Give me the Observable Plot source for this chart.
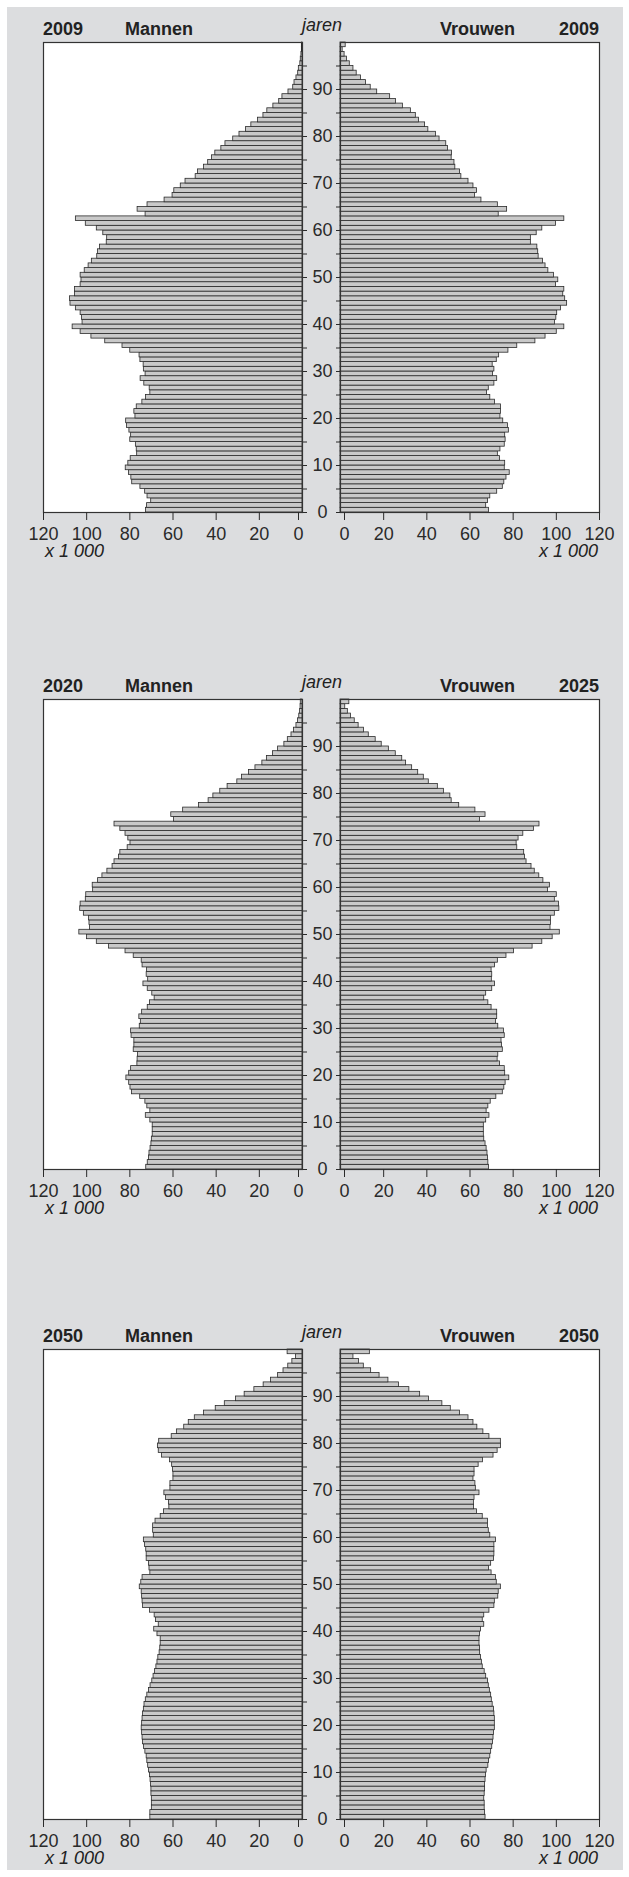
<!DOCTYPE html>
<html>
<head>
<meta charset="utf-8">
<script src="https://cdn.jsdelivr.net/npm/d3@7"></script>
<script src="https://cdn.jsdelivr.net/npm/@observablehq/plot@0.6"></script>
<style>
  html, body { margin: 0; padding: 0; background: #ffffff; }
  body { position: relative; width: 629px; height: 1877px; overflow: hidden;
         font-family: "Liberation Sans", Arial, Helvetica, sans-serif; color: #222; }
  #bg { position: absolute; left: 7px; top: 7px; width: 616px; height: 1863px; background: #dcdddf; }
  .t { position: absolute; font-size: 18px; line-height: 18px; white-space: nowrap; }
  .b { font-weight: bold; }
  .i { font-style: italic; }
  svg { position: absolute; overflow: visible; }
</style>
</head>
<body>
<div id="bg"></div>
<script>
// ---- data (x 1 000 persons), index = age 0..99 ----
const ages = d3.range(0, 100);

const men2009 = [72.5,72,70.1,71.8,72.9,75.1,78.9,79.3,80.4,81.9,
  80.7,79.6,76.6,76.8,77.2,79.8,79.4,80.2,81.3,81.7,
  77.4,77.9,76.8,74.2,72.5,70.5,70.8,73.3,75,72.7,
  73.5,73.6,75.1,75.5,79.8,83.4,91.4,97.8,102.8,106.5,
  101.9,102.2,102.8,105,107.5,107.7,105.4,105.4,102.8,102.4,
  102.8,100.9,99.1,97.6,95.1,94.8,93.8,90.7,90.5,92.3,
  95.3,100.4,105,72.7,76.4,71.8,63.9,60.2,59.4,56.4,
  54.2,49.5,48.4,45.6,43.7,41.9,40.4,37.6,35.7,32.1,
  29.2,26.2,23.7,20.6,18.1,16.3,13.5,10.8,9.3,6.5,
  4.3,3.7,2.8,2,1.7,1,0.8,0.5,0.3,0.3];

const women2009 = [68.8,67.5,68.3,69.4,72.6,75.2,75.9,76.9,78.4,76.1,
  76.3,73.9,72.9,74.1,76.1,76.5,76.3,78,77.6,75.4,
  74.1,74.4,74.4,71.6,69.4,67.9,68.7,71.3,72.6,70.7,
  71.3,70.5,72.4,73.5,77.8,81.9,90.3,95,100.2,103.7,
  99.4,100,100.4,102.2,105,104.1,103.2,103.7,99.8,100.9,
  98.9,96.3,95,93.8,91.8,91.6,91.2,88.2,88.2,90.9,
  93.5,99.8,103.7,73.3,77.2,72.9,65.3,62.3,63.2,61.6,
  59.3,56,55.4,53.2,52.8,51.5,51.7,49.8,49,45.9,
  44.2,40.7,39.2,36.4,34.9,32.6,28.9,25.7,23,17,
  14,11.8,9.5,7.5,6,4.3,3,1.9,1,2.4];

const men2020 = [72.4,71.7,71.1,70.9,70.4,70,69.8,69.4,69.4,69.4,
  70.5,72.6,70.5,71.9,72.8,75.2,79,79.7,80.3,81.6,
  80.3,79.4,76.5,76.4,76.2,78.2,77.9,77.9,79.2,79.4,
  75.4,74.9,75.6,74.3,71.7,70.7,68.5,69.6,71.7,73.7,
  71.5,72.2,72,74.1,74.5,78.2,82,89.7,95.3,99.8,
  103.4,98.5,98.7,98.9,101.3,103,102.8,100.4,100.2,97,
  97.2,94.7,92.7,90.4,88,87.1,85,84.4,81,79.7,
  80.7,82,84.4,87.1,59.5,60.8,55.3,48,43.5,41.3,
  38.1,34.7,30.2,28,24.8,21.8,18.6,16.5,13.7,11.3,
  8.4,6.8,5.1,3.9,2.8,2.1,1.5,1.1,0.9,0.8];

const women2025 = [68.8,68.5,68.3,68.1,67.7,67.2,66.6,66.4,66.4,66.4,
  67.5,69,67.7,68.5,69.6,72.2,75.2,75.9,76.5,78.2,
  76.3,76.1,73.9,72.8,73.1,75.2,74.8,74.6,76.1,75.7,
  73.1,72,72.6,72.6,70,68.5,66.6,67.5,70.3,71.6,
  70.1,70.3,70,71.6,72.9,76.9,80.4,89,93.5,98.3,
  101.6,97.3,97.5,97.5,99.3,101.4,101.2,99.3,100.2,96.1,
  97,94,92.1,90,88.5,86.2,85.5,85.1,81.9,81.6,
  82.5,84.7,89.6,92.2,64.6,67.2,62.5,55,51.5,50.9,
  47.9,45.1,40.9,38.6,36,33.2,30.4,28.6,25.6,22.4,
  19.1,16.3,13.1,10.9,8.4,6.6,4.9,3.4,2.2,4.1];

const men2050 = [70.5,70.5,69.8,69.8,69.8,70,70,70.2,70.4,70.7,
  71.1,71.5,71.9,72.2,72.8,73.4,73.9,74.1,74.3,74.5,
  74.3,74.1,73.9,73.5,73.2,72.6,71.9,71.1,70.4,69.6,
  69,68.3,67.7,67.2,66.8,66.2,65.9,65.7,65.7,67.2,
  68.7,66.6,67.9,68.5,70.7,73.9,74.1,74.3,74.5,75.4,
  74.7,74.1,70.5,70.9,71.1,72.2,72.2,72.4,73,73.5,
  68.9,69.2,69.2,68.1,65.7,64.2,61.7,61.9,63.2,64,
  61.2,61.2,59.8,59.8,60,60.4,61.4,65.1,66.6,67,
  66.4,60.6,58.2,54.8,52.7,49.9,45.6,40.2,36,30.8,
  26.8,22.3,18,14.6,11.3,8.8,6.6,4.7,3,6.9];

const women2050 = [67.2,67,66.8,66.8,66.6,66.8,67,67,67.2,67.4,
  67.7,68.5,68.8,69.4,69.8,70.3,70.7,70.9,71.1,71.5,
  71.5,71.5,71.3,71.1,70.5,70.1,69.8,69.2,68.7,68.3,
  67.5,66.8,65.9,65.5,65.1,64.7,64.6,64.4,64.4,64.6,
  65.1,66.6,65.9,66.6,69,71.3,71.5,73.1,73.3,74.3,
  72.4,72,70,68.8,69.8,71.1,71.3,71.3,71.3,72,
  69.4,68.7,68.3,68.3,65.9,63.2,61.9,61.8,62.1,64.4,
  62.7,62.5,61.6,62.1,62.1,64,66,70.9,72.8,74.4,
  74.3,69,66.2,63.4,61.6,59.3,55.4,51.1,47.2,41,
  36.9,31.9,27.1,22.2,18.1,14.2,10.8,8.6,6,13.6];

// ---- tick labels ----
const xTicks = [20, 40, 60, 80, 100, 120];
const xZero = [0];
const ageLabelTicks = [0, 10, 20, 30, 40, 50, 60, 70, 80, 90];
const ageMinorTicks = [5, 15, 25, 35, 45, 55, 65, 75, 85, 95];

// ---- panel texts ----
const panels = [
  {top: 42,   men: men2009, women: women2009, yearL: "2009", yearR: "2009"},
  {top: 699,  men: men2020, women: women2025, yearL: "2020", yearR: "2025"},
  {top: 1349, men: men2050, women: women2050, yearL: "2050", yearR: "2050"}
];
const labelMen = "Mannen", labelWomen = "Vrouwen", labelAge = "jaren", labelUnit = "x 1 000";

// ---- layout ----
const FRAME_H = 470, MT = 10, MB = 45;
const BAR_FILL = "#c9c9c9", BAR_STROKE = "#2a2a2a", INK = "#2a2a2a";
const plotStyle = {fontFamily: '"Liberation Sans", Arial, Helvetica, sans-serif', fontSize: "18px",
                   color: INK, background: "transparent", overflow: "visible"};

function addText(txt, cls, css) {
  const d = document.createElement("div");
  d.className = "t " + cls;
  d.textContent = txt;
  Object.assign(d.style, css);
  document.body.appendChild(d);
}

function side(values, isLeft) {
  const rows = ages.map((a, i) => ({age: a, value: values[i]}));
  const common = {
    height: MT + FRAME_H + MB, marginTop: MT, marginBottom: MB,
    x: {domain: [0, 120], reverse: isLeft},
    y: {domain: [0, 100]},
    style: plotStyle
  };
  const marks = [
    Plot.frame({fill: "white", stroke: null}),
    Plot.rect(rows, {x1: 0, x2: "value", y1: "age", y2: d => d.age + 1,
                     fill: BAR_FILL, stroke: BAR_STROKE, strokeWidth: 0.8}),
    Plot.frame({stroke: "#333", strokeWidth: 1.2}),
    Plot.axisX({ticks: xTicks, tickSize: 8, tickPadding: 7, label: null, fontSize: 18}),
    Plot.axisX({ticks: xZero, tickSize: 8, tickPadding: 7, label: null, fontSize: 18, dx: isLeft ? -4 : 4}),
    Plot.axisY({anchor: isLeft ? "right" : "left", ticks: ageMinorTicks, tickSize: 4,
                tickFormat: () => "", label: null})
  ];
  if (isLeft) {
    marks.push(Plot.axisY({anchor: "right", ticks: ageLabelTicks, tickSize: 4, tickPadding: 16,
                           textAnchor: "middle", label: null, fontSize: 18}));
  } else {
    marks.push(Plot.axisY({anchor: "left", ticks: ageLabelTicks, tickSize: 4,
                           tickFormat: () => "", label: null}));
  }
  return Plot.plot(Object.assign(common, isLeft
    ? {width: 340, marginLeft: 43, marginRight: 38}
    : {width: 299, marginLeft: 10, marginRight: 30}), {marks});
}

for (const p of panels) {
  const rowsLeft = ages.map((a, i) => ({age: a, value: p.men[i]}));
  const L = Plot.plot({
    width: 340, height: MT + FRAME_H + MB, marginTop: MT, marginBottom: MB,
    marginLeft: 43, marginRight: 38,
    x: {domain: [0, 120], reverse: true},
    y: {domain: [0, 100]},
    style: plotStyle,
    marks: [
      Plot.frame({fill: "white", stroke: null}),
      Plot.rect(rowsLeft, {x1: 0, x2: "value", y1: "age", y2: d => d.age + 1,
                           fill: BAR_FILL, stroke: BAR_STROKE, strokeWidth: 0.8}),
      Plot.frame({stroke: "#333", strokeWidth: 1.2}),
      Plot.axisX({ticks: xTicks, tickSize: 8, tickPadding: 7, label: null, fontSize: 18}),
      Plot.axisX({ticks: xZero, tickSize: 8, tickPadding: 7, label: null, fontSize: 18, dx: -4}),
      Plot.axisY({anchor: "right", ticks: ageMinorTicks, tickSize: 4, tickFormat: () => "", label: null}),
      Plot.axisY({anchor: "right", ticks: ageLabelTicks, tickSize: 4, tickPadding: 16,
                  textAnchor: "middle", label: null, fontSize: 18})
    ]
  });
  const rowsRight = ages.map((a, i) => ({age: a, value: p.women[i]}));
  const R = Plot.plot({
    width: 299, height: MT + FRAME_H + MB, marginTop: MT, marginBottom: MB,
    marginLeft: 10, marginRight: 30,
    x: {domain: [0, 120]},
    y: {domain: [0, 100]},
    style: plotStyle,
    marks: [
      Plot.frame({fill: "white", stroke: null}),
      Plot.rect(rowsRight, {x1: 0, x2: "value", y1: "age", y2: d => d.age + 1,
                            fill: BAR_FILL, stroke: BAR_STROKE, strokeWidth: 0.8}),
      Plot.frame({stroke: "#333", strokeWidth: 1.2}),
      Plot.axisX({ticks: xTicks, tickSize: 8, tickPadding: 7, label: null, fontSize: 18}),
      Plot.axisX({ticks: xZero, tickSize: 8, tickPadding: 7, label: null, fontSize: 18, dx: 4}),
      Plot.axisY({anchor: "left", ticks: ageMinorTicks, tickSize: 4, tickFormat: () => "", label: null}),
      Plot.axisY({anchor: "left", ticks: ageLabelTicks, tickSize: 4, tickFormat: () => "", label: null})
    ]
  });
  L.style.left = "0px"; L.style.top = (p.top - MT) + "px";
  R.style.left = "330px"; R.style.top = (p.top - MT) + "px";
  document.body.appendChild(L);
  document.body.appendChild(R);

  // titles (baseline ~7px above frame; text top = baseline - 15)
  const tb = p.top - 7 - 15;
  addText(p.yearL, "b", {left: "43px", top: tb + "px"});
  addText(labelMen, "b", {left: "125px", top: tb + "px"});
  addText(labelWomen, "b", {right: "114px", top: tb + "px"});
  addText(p.yearR, "b", {right: "30px", top: tb + "px"});
  addText(labelAge, "i", {left: "322px", top: (tb - 4) + "px", transform: "translateX(-50%)"});
  const ub = p.top + FRAME_H + 45 - 15;
  addText(labelUnit, "i", {left: "45px", top: ub + "px"});
  addText(labelUnit, "i", {right: "31px", top: ub + "px"});
}
</script>
</body>
</html>
